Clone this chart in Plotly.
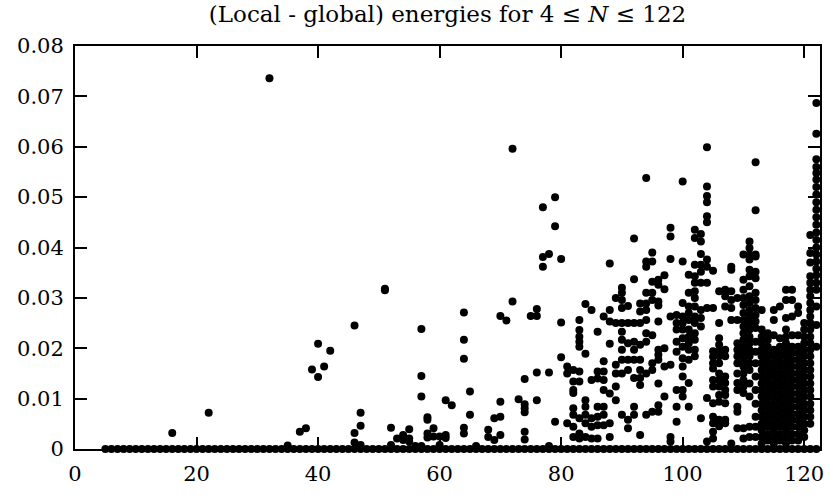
import plotly.graph_objects as go

# (N, list of local-minus-global energies) ; 0.0 is the global minimum itself
cols_05_39 = [
    (5, [0.0]), (6, [0.0]), (7, [0.0]), (8, [0.0]), (9, [0.0]), (10, [0.0]),
    (11, [0.0]), (12, [0.0]), (13, [0.0]), (14, [0.0]), (15, [0.0]),
    (16, [0.0, 0.0032]), (17, [0.0]), (18, [0.0]), (19, [0.0]), (20, [0.0]),
    (21, [0.0]), (22, [0.0, 0.0072]), (23, [0.0]), (24, [0.0]), (25, [0.0]),
    (26, [0.0]), (27, [0.0]), (28, [0.0]), (29, [0.0]), (30, [0.0]),
    (31, [0.0]), (32, [0.0, 0.0736]), (33, [0.0]), (34, [0.0]),
    (35, [0.0, 0.0007]), (36, [0.0]), (37, [0.0, 0.0034]), (38, [0.0, 0.0041]),
    (39, [0.0, 0.0158]),
]

cols_40_59 = [
    (40, [0.0, 0.0209, 0.0143]), (41, [0.0, 0.0164]), (42, [0.0, 0.0195]),
    (43, [0.0]), (44, [0.0]), (45, [0.0]),
    (46, [0.0, 0.0245, 0.0032, 0.0013]), (47, [0.0, 0.0072, 0.0046, 0.0008]),
    (48, [0.0]), (49, [0.0]), (50, [0.0]), (51, [0.0, 0.0318, 0.0315]),
    (52, [0.0, 0.0042, 0.0008]), (53, [0.0, 0.0021]), (54, [0.0, 0.0028, 0.0018]),
    (55, [0.0, 0.0039, 0.0021, 0.0015]), (56, [0.0, 0.0006]),
    (57, [0.0, 0.0238, 0.0145, 0.0104, 0.0006]),
    (58, [0.0, 0.0063, 0.0058, 0.0031, 0.0023]), (59, [0.0, 0.0041, 0.0025]),
]

cols_60_80 = [
    (60, [0.0, 0.0025, 0.0008]), (61, [0.0, 0.0097, 0.0028, 0.0022]),
    (62, [0.0, 0.0087]), (63, [0.0]),
    (64, [0.0, 0.0271, 0.0217, 0.0179, 0.0042, 0.0031]),
    (65, [0.0, 0.0114, 0.0068]), (66, [0.0, 0.0006]), (67, [0.0]),
    (68, [0.0, 0.0038, 0.0024]), (69, [0.0, 0.0061, 0.0018]),
    (70, [0.0, 0.0264, 0.0094, 0.0064, 0.0028]), (71, [0.0, 0.0255]),
    (72, [0.0, 0.0596, 0.0293]), (73, [0.0, 0.0099]),
    (74, [0.0, 0.0139, 0.0089, 0.0081, 0.0073, 0.0034, 0.0019]),
    (75, [0.0, 0.0264]), (76, [0.0, 0.0278, 0.0264, 0.0152, 0.0097]),
    (77, [0.0, 0.0480, 0.0381, 0.0362]), (78, [0.0, 0.0387, 0.0152, 0.0006]),
    (79, [0.0, 0.0500, 0.0442, 0.0054]), (80, [0.0, 0.0377, 0.0251, 0.0182]),
]

cols_81_90 = [
    (81, [0.0, 0.0164, 0.0150, 0.0051]),
    (82, [0.0, 0.0157, 0.0134, 0.0117, 0.0111, 0.0081, 0.0068, 0.0044, 0.0024]),
    (83, [0.0, 0.0256, 0.0236, 0.0223, 0.0213, 0.0203, 0.0154, 0.0134, 0.0061, 0.0031, 0.0021]),
    (84, [0.0, 0.0288, 0.0189, 0.0097, 0.0084, 0.0068, 0.0051, 0.0024]),
    (85, [0.0, 0.0276, 0.0137, 0.0061, 0.0044, 0.0021]),
    (86, [0.0, 0.0233, 0.0154, 0.0140, 0.0084, 0.0064, 0.0047, 0.0021]),
    (87, [0.0, 0.0263, 0.0174, 0.0154, 0.0137, 0.0117, 0.0084, 0.0068, 0.0047]),
    (88, [0.0, 0.0368, 0.0276, 0.0253, 0.0209, 0.0110, 0.0051, 0.0024]),
    (89, [0.0, 0.0300, 0.0250, 0.0167, 0.0150, 0.0124, 0.0097]),
    (90, [0.0, 0.0320, 0.0310, 0.0296, 0.0280, 0.0250, 0.0233, 0.0217, 0.0197, 0.0177, 0.0150, 0.0068]),
]

cols_91_100 = [
    (91, [0.0, 0.0284, 0.0250, 0.0210, 0.0177, 0.0157, 0.0058, 0.0041]),
    (92, [0.0, 0.0418, 0.0337, 0.0250, 0.0213, 0.0197, 0.0177, 0.0141, 0.0084, 0.0068]),
    (93, [0.0, 0.0289, 0.0273, 0.0250, 0.0207, 0.0177, 0.0157, 0.0141, 0.0127, 0.0028]),
    (94, [0.0, 0.0538, 0.0372, 0.0362, 0.0310, 0.0289, 0.0276, 0.0256, 0.0230, 0.0213, 0.0150, 0.0068]),
    (95, [0.0, 0.0390, 0.0372, 0.0332, 0.0310, 0.0296, 0.0226, 0.0170, 0.0157, 0.0074]),
    (96, [0.0, 0.0336, 0.0326, 0.0293, 0.0285, 0.0253, 0.0197, 0.0187, 0.0177, 0.0130, 0.0087, 0.0074]),
    (97, [0.0, 0.0345, 0.0317, 0.0200, 0.0164, 0.0104]),
    (98, [0.0, 0.0439, 0.0422, 0.0377, 0.0263, 0.0167, 0.0024, 0.0015]),
    (99, [0.0, 0.0266, 0.0250, 0.0237, 0.0213, 0.0193, 0.0117, 0.0084, 0.0054]),
    (100, [0.0, 0.0531, 0.0372, 0.0290, 0.0263, 0.0250, 0.0237, 0.0220, 0.0203, 0.0180,
           0.0164, 0.0144, 0.0117, 0.0104]),
]

cols_101_110 = [
    (101, [0.0, 0.0346, 0.0310, 0.0283, 0.0270, 0.0256, 0.0237, 0.0223, 0.0210, 0.0197,
           0.0177, 0.0131, 0.0084]),
    (102, [0.0, 0.0435, 0.0419, 0.0366, 0.0343, 0.0330, 0.0313, 0.0300, 0.0283, 0.0263,
           0.0250, 0.0230, 0.0217, 0.0197, 0.0184]),
    (103, [0.0, 0.0427, 0.0412, 0.0387, 0.0366, 0.0352, 0.0330, 0.0276, 0.0260, 0.0243, 0.0061]),
    (104, [0.0, 0.0599, 0.0521, 0.0502, 0.0490, 0.0462, 0.0450, 0.0376, 0.0362, 0.0330,
           0.0280, 0.0101, 0.0015]),
    (105, [0.0, 0.0354, 0.0280, 0.0194, 0.0183, 0.0170, 0.0160, 0.0137, 0.0124, 0.0091,
           0.0064, 0.0051, 0.0034, 0.0021]),
    (106, [0.0, 0.0313, 0.0250, 0.0220, 0.0207, 0.0194, 0.0184, 0.0170, 0.0150, 0.0137,
           0.0124, 0.0107, 0.0094, 0.0058, 0.0045]),
    (107, [0.0, 0.0316, 0.0303, 0.0283, 0.0197, 0.0184, 0.0144, 0.0131, 0.0117, 0.0107,
           0.0091, 0.0058, 0.0051]),
    (108, [0.0, 0.0362, 0.0356, 0.0313, 0.0296, 0.0280, 0.0256, 0.0011]),
    (109, [0.0, 0.0300, 0.0256, 0.0210, 0.0197, 0.0184, 0.0170, 0.0150, 0.0131, 0.0117,
           0.0084, 0.0074, 0.0041]),
    (110, [0.0, 0.0386, 0.0336, 0.0316, 0.0300, 0.0286, 0.0270, 0.0256, 0.0243, 0.0230,
           0.0217, 0.0203, 0.0190, 0.0177, 0.0164, 0.0150, 0.0137, 0.0124, 0.0111, 0.0041, 0.0021]),
]

cols_111_116 = [
    (111, [0.0, 0.0412, 0.0399, 0.0386, 0.0376, 0.0356, 0.0343, 0.0323, 0.0303, 0.0290,
           0.0276, 0.0263, 0.0250, 0.0237, 0.0223, 0.0210, 0.0197, 0.0184, 0.0170, 0.0157,
           0.0130, 0.0104, 0.0044, 0.0024]),
    (112, [0.0, 0.0569, 0.0474, 0.0386, 0.0382, 0.0352, 0.0339, 0.0310, 0.0296, 0.0280,
           0.0266, 0.0253, 0.0240, 0.0213, 0.0193, 0.0170, 0.0144, 0.0117, 0.0090, 0.0064,
           0.0044, 0.0024]),
    (113, [0.0, 0.0276, 0.0237, 0.0223, 0.0210, 0.0197, 0.0184, 0.0170, 0.0157, 0.0144,
           0.0130, 0.0117, 0.0104, 0.0090, 0.0077, 0.0064, 0.0050, 0.0037, 0.0024, 0.0011]),
    (114, [0.0, 0.0230, 0.0217, 0.0203, 0.0190, 0.0177, 0.0164, 0.0150, 0.0137, 0.0124,
           0.0110, 0.0097, 0.0084, 0.0070, 0.0057, 0.0044, 0.0030, 0.0017]),
    (115, [0.0, 0.0276, 0.0256, 0.0226, 0.0197, 0.0184, 0.0170, 0.0157, 0.0144, 0.0130,
           0.0117, 0.0104, 0.0090, 0.0077, 0.0064, 0.0050, 0.0037, 0.0024, 0.0011]),
    (116, [0.0, 0.0283, 0.0220, 0.0203, 0.0190, 0.0177, 0.0164, 0.0150, 0.0137, 0.0124,
           0.0110, 0.0097, 0.0084, 0.0070, 0.0057, 0.0044, 0.0030, 0.0017]),
]

cols_117_122 = [
    (117, [0.0, 0.0316, 0.0296, 0.0260, 0.0237, 0.0223, 0.0210, 0.0197, 0.0184, 0.0170,
           0.0157, 0.0144, 0.0130, 0.0117, 0.0104, 0.0090, 0.0077, 0.0064, 0.0050, 0.0037,
           0.0024, 0.0011]),
    (118, [0.0, 0.0316, 0.0296, 0.0263, 0.0226, 0.0203, 0.0190, 0.0177, 0.0164, 0.0150,
           0.0137, 0.0124, 0.0110, 0.0097, 0.0084, 0.0070, 0.0057, 0.0044, 0.0030, 0.0017]),
    (119, [0.0, 0.0283, 0.0270, 0.0226, 0.0203, 0.0190, 0.0177, 0.0164, 0.0150, 0.0137,
           0.0124, 0.0110, 0.0097, 0.0084, 0.0070, 0.0057, 0.0044, 0.0030, 0.0017]),
    (120, [0.0, 0.0250, 0.0237, 0.0223, 0.0210, 0.0197, 0.0184, 0.0170, 0.0157, 0.0144,
           0.0130, 0.0117, 0.0104, 0.0090, 0.0077, 0.0064, 0.0050, 0.0037, 0.0024]),
    (121, [0.0, 0.0425, 0.0389, 0.0370, 0.0343, 0.0330, 0.0316, 0.0303, 0.0290, 0.0276,
           0.0263, 0.0250, 0.0237, 0.0223, 0.0210, 0.0197, 0.0184, 0.0170, 0.0157, 0.0144,
           0.0130, 0.0117, 0.0104, 0.0090, 0.0077, 0.0064, 0.0050]),
    (122, [0.0, 0.0687, 0.0626, 0.0575, 0.0560, 0.0548, 0.0535, 0.0520, 0.0505, 0.0490,
           0.0475, 0.0460, 0.0445, 0.0430, 0.0415, 0.0400, 0.0386, 0.0372, 0.0358, 0.0345,
           0.0330, 0.0316, 0.0283, 0.0246, 0.0203]),
]

x_ticks = [0, 20, 40, 60, 80, 100, 120]
y_ticks = [0, 0.01, 0.02, 0.03, 0.04, 0.05, 0.06, 0.07, 0.08]
y_tick_text = ["0", "0.01", "0.02", "0.03", "0.04", "0.05", "0.06", "0.07", "0.08"]
title_text = "(Local - global) energies for 4 \u2264 <i>N</i> \u2264 122"

xs, ys = [], []
for group in (cols_05_39, cols_40_59, cols_60_80, cols_81_90, cols_91_100,
              cols_101_110, cols_111_116, cols_117_122):
    for n, vals in group:
        for v in vals:
            xs.append(n)
            ys.append(v)

FONT = "DejaVu Serif"

fig = go.Figure(go.Scatter(
    x=xs, y=ys, mode="markers",
    marker=dict(size=8, color="black", line=dict(width=0)),
    cliponaxis=False, showlegend=False,
))

axis_common = dict(
    showline=True, linecolor="black", linewidth=2, mirror="ticks",
    ticks="inside", ticklen=12, tickwidth=1.5, tickcolor="black",
    showgrid=False, zeroline=False,
    tickfont=dict(family=FONT, size=21, color="black"),
)

fig.update_xaxes(range=[0, 122.6], tickvals=x_ticks,
                 ticktext=[str(t) for t in x_ticks], ticklabelstandoff=5,
                 **axis_common)
fig.update_yaxes(range=[0, 0.08], tickvals=y_ticks, ticktext=y_tick_text,
                 ticklabelstandoff=5, **axis_common)

fig.update_layout(
    width=830, height=495,
    margin=dict(l=75, r=6, t=46, b=46),
    paper_bgcolor="white", plot_bgcolor="white",
    title=dict(text=title_text, x=0.5, xref="paper", xanchor="center",
               y=1 - 14 / 495, yref="container", yanchor="middle",
               font=dict(family=FONT, size=23, color="black")),
)

fig.write_html("out.html", config={"displayModeBar": False},
               post_script="document.body.style.margin='0';document.body.style.overflow='hidden';")
